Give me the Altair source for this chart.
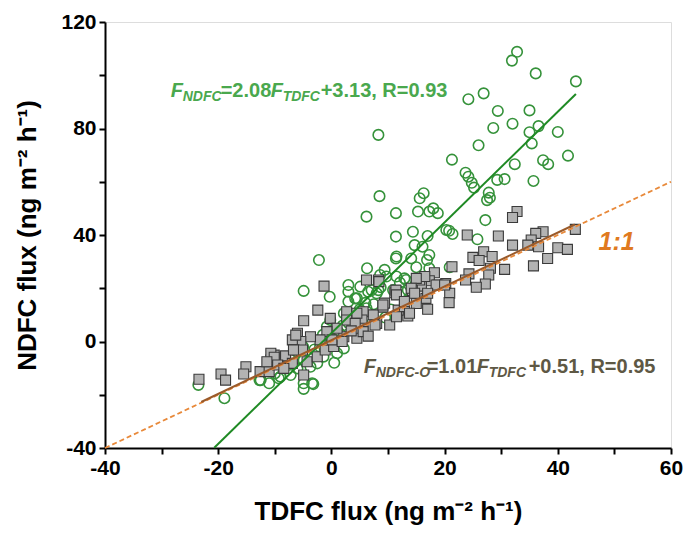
import altair as alt
import pandas as pd

# ---------------- data ----------------
ndfc_x = [32.8, 31.9, 36.1, 43.2, 26.9, 24.2, 29.4, 35.0, 32.0, 28.6, 36.6, 35.0, 40.0, 35.4, 26.0,
          41.8, 21.3, 32.4, 37.4, 38.3, 23.7, 24.2, 24.8, 29.3, 30.6, 35.7, 25.2, 27.8, 28.0, 27.5,
          16.3, 15.6, 8.3, 8.5, 6.2, 11.4, 15.3, 17.3, 18.8, 18.0, 14.4, 11.4, 17.0, 20.8, 20.3,
          21.4, 14.7, 16.1, 17.3, 11.5, -2.2, 27.2, 25.8, 11.4, 14.1, 16.9, 15.0, 6.3, 9.4, 8.6,
          20.9, 17.3, 9.7, 11.5, 12.9, 5.1, 6.5, 8.7, 10.9, 12.1, 13.2, 12.4, 13.5, 4.5, 8.3,
          -4.9, -0.3, 3.0, 3.0, 4.2, 3.0, 7.1, 8.0, 6.2, 2.2, -0.2, -0.8, 1.0, 2.2, 1.0,
          -1.4, -2.5, -3.7, -4.9, -6.0, -7.2, -4.9, -3.4, -9.3, -11.0, -12.5, -23.5, -18.9, -9.0, -3.2,
          -4.9, -6.0, -8.0, -2.0, 0.0, 1.5, 3.0, 4.0, 5.0, -1.0, 2.0, -3.0, 6.0, 7.5, -10.0,
          -7.0, -5.0, 0.5, 9.5, 10.5, 5.5, -12.7, -1.5]
ndfc_y = [108.8, 105.5, 100.7, 97.7, 93.2, 91.0, 86.6, 86.8, 81.8, 80.2, 80.9, 78.6, 78.7, 74.4, 73.7,
          69.8, 68.3, 66.6, 68.1, 66.6, 63.4, 61.9, 59.6, 60.7, 61.0, 60.3, 57.8, 55.9, 54.0, 53.1,
          55.7, 53.8, 77.6, 54.6, 46.9, 48.2, 48.8, 48.8, 48.2, 50.0, 41.2, 39.4, 39.6, 41.6, 41.9,
          40.4, 36.2, 35.6, 32.5, 31.9, 30.6, 45.6, 38.4, 31.2, 31.2, 30.6, 27.9, 27.5, 26.9, 25.0,
          27.9, 27.5, 24.4, 24.4, 23.7, 20.6, 18.7, 20.4, 19.3, 22.1, 23.1, 18.7, 19.3, 16.2, 19.3,
          19.0, 16.8, 21.2, 18.7, 16.2, 15.0, 19.3, 18.1, 12.5, 10.6, 8.1, 5.6, 4.3, -2.6, -4.4,
          -5.7, -8.2, -9.5, -7.0, -10.1, -12.6, -15.7, -15.7, -13.8, -15.7, -14.5, -16.3, -21.3, -13.2, -16.0,
          -17.8, -4.0, -8.0, -2.0, 0.5, 3.0, 7.0, 9.0, 12.0, 1.0, 6.0, -3.0, 14.5, 14.0, -12.0,
          -6.0, -2.0, -8.0, 9.0, 12.0, 7.0, -14.5, 2.5]

ndfco_x = [32.8, 32.0, 43.1, 37.4, 36.1, 35.3, 36.6, 34.7, 40.0, 41.7, 38.2, 35.7, 32.0, 29.5, 24.0,
           26.9, 25.0, 28.4, 26.1, 28.1, 30.6, 27.8, 24.3, 23.7, 27.2, 25.6, 21.3, 20.9, 20.8, 20.2,
           18.2, 17.3, 18.8, 15.9, 15.6, 14.3, 16.7, 17.0, 15.0, 13.5, 11.2, 10.3, 9.1, 11.8, 12.9,
           8.3, 8.0, 16.5, 15.0, 14.1, 14.7, 11.4, 11.5, 8.4, 6.2, 18.5, 20.0, 17.0, 13.8, 12.9,
           9.4, 7.4, 5.6, 5.4, 7.7, 11.5, 5.6, 9.1, 4.5, 5.6, 2.2,
           -2.4, -4.9, -0.2, 2.7, 4.5, 2.7, 4.2, 1.0, -0.8, -2.0, -3.7, -6.0, -5.4, -6.9, -6.6,
           -5.1, -8.1, -10.1, -10.7, -4.3, -2.5, -1.1, 0.4, -4.9, 0.1, 1.9, -23.4, -19.5, -18.7, -15.1,
           -15.5, -12.6, -11.0, -10.7, -10.1, -8.1, -6.7, -6.9, -6.3, -9.5, -8.4, -11.4, -1.3, 3.5, 6.5]
ndfco_y = [48.8, 46.6, 42.1, 41.2, 40.6, 38.1, 35.6, 36.2, 35.2, 34.6, 31.2, 28.4, 36.2, 39.6, 40.0,
           33.7, 31.6, 31.9, 30.4, 27.5, 27.1, 25.0, 25.4, 23.1, 21.6, 20.4, 28.1, 18.1, 14.6, 21.8,
           25.8, 22.8, 21.2, 20.8, 23.1, 19.1, 16.2, 12.1, 14.3, 9.6, 18.3, 6.2, 12.9, 11.8, 13.1,
           23.1, 6.8, 24.4, 23.7, 20.0, 18.1, 19.3, 17.5, 22.5, 23.1, 21.2, 21.2, 18.1, 10.6, 15.0,
           14.4, 10.0, 11.2, 8.1, 6.2, 9.3, 5.0, 13.7, 1.2, 3.7, 1.8,
           11.8, 7.8, 8.7, 11.2, 10.6, 8.1, 6.8, 5.0, 3.7, 0.6, 1.8, 3.1, 0.0, 0.6, -3.2,
           -3.2, -5.7, -5.1, -7.0, -7.6, -5.7, -3.2, -1.9, -12.6, 0.6, 0.0, -14.2, -12.2, -14.5, -9.5,
           -12.2, -11.3, -11.3, -4.4, -5.9, -5.4, -3.2, -8.2, 2.4, -8.8, -10.1, -7.6, 20.8, 4.0, 2.0]

# regression lines (coefficients printed on the chart) and 1:1 line
green_fit_x = [-20.7, 43.2]
green_slope, green_icpt = 2.08, 3.13
brown_fit_x = [-23.0, 43.0]
brown_slope, brown_icpt = 1.01, 0.51
one_to_one = [-40, 60]

x_ticks = list(range(-40, 61, 10))
y_ticks = list(range(-40, 121, 20))

# ---------------- styling ----------------
FONT = "Liberation Sans"
GREEN_PT = "#35923a"
GREEN_LINE = "#1f8a24"
GREEN_TXT = "#4aa84e"
BROWN_LINE = "#9a5a2a"
ORANGE = "#e8893a"
BROWN_TXT = "#5e5844"
ORANGE_TXT = "#e07a1f"

xs = alt.Scale(domain=[-40, 60], nice=False, zero=False)
ys = alt.Scale(domain=[-40, 120], nice=False, zero=False)

x_axis = alt.Axis(values=x_ticks, labelExpr="datum.value % 20 === 0 ? '' + datum.value : ''",
                  tickSize=6, tickWidth=2, tickColor="black", domainWidth=2, domainColor="black",
                  labelFont=FONT, labelFontSize=21, labelFontWeight="bold", labelColor="black",
                  labelPadding=3, labelOverlap=False, labelFlush=False, grid=False,
                  title="TDFC flux (ng m\u207b\u00b2 h\u207b\u00b9)", titleFont=FONT, titleFontSize=26,
                  titleFontWeight="bold", titleColor="black", titlePadding=20)
y_axis = alt.Axis(values=y_ticks, labelExpr="datum.value % 40 === 0 ? '' + datum.value : ''",
                  tickSize=6, tickWidth=2, tickColor="black", domainWidth=2, domainColor="black",
                  labelFont=FONT, labelFontSize=21, labelFontWeight="bold", labelColor="black",
                  labelPadding=3, labelOverlap=False, labelFlush=False, grid=False,
                  title="NDFC flux (ng m\u207b\u00b2 h\u207b\u00b9)", titleFont=FONT, titleFontSize=26,
                  titleFontWeight="bold", titleColor="black", titlePadding=20)

circ_df = pd.DataFrame({"x": ndfc_x, "y": ndfc_y})
sq_df = pd.DataFrame({"x": ndfco_x, "y": ndfco_y})

circles = alt.Chart(circ_df).mark_point(shape="circle", filled=False, size=110, strokeWidth=1.6,
                                        color=GREEN_PT, opacity=1).encode(
    x=alt.X("x:Q", scale=xs, axis=x_axis), y=alt.Y("y:Q", scale=ys, axis=y_axis))

squares = alt.Chart(sq_df).mark_point(shape="square", filled=True, size=100, fill="#b3b3b3",
                                      stroke="#3a3a3a", strokeWidth=1.1, opacity=1,
                                      fillOpacity=1).encode(x=alt.X("x:Q", scale=xs), y=alt.Y("y:Q", scale=ys))

one_df = pd.DataFrame({"x": one_to_one, "y": one_to_one})
one_line = alt.Chart(one_df).mark_line(color=ORANGE, strokeDash=[5, 3], strokeWidth=1.8).encode(
    x=alt.X("x:Q", scale=xs), y=alt.Y("y:Q", scale=ys))

g_df = pd.DataFrame({"x": green_fit_x, "y": [green_slope * v + green_icpt for v in green_fit_x]})
g_line = alt.Chart(g_df).mark_line(color=GREEN_LINE, strokeWidth=2).encode(
    x=alt.X("x:Q", scale=xs), y=alt.Y("y:Q", scale=ys))

b_df = pd.DataFrame({"x": brown_fit_x, "y": [brown_slope * v + brown_icpt for v in brown_fit_x]})
b_line = alt.Chart(b_df).mark_line(color=BROWN_LINE, strokeWidth=2).encode(
    x=alt.X("x:Q", scale=xs), y=alt.Y("y:Q", scale=ys))


def label_pieces(anchor_x, anchor_y, pieces, color):
    layers = []
    for txt, dx, sub, ital in pieces:
        df = pd.DataFrame({"x": [anchor_x], "y": [anchor_y], "t": [txt]})
        layers.append(alt.Chart(df).mark_text(
            align="left", baseline="alphabetic", font=FONT, fontWeight="bold",
            fontStyle="italic" if ital else "normal", fontSize=14 if sub else 20,
            dx=dx, dy=4 if sub else 0, color=color).encode(
            x=alt.X("x:Q", scale=xs), y=alt.Y("y:Q", scale=ys), text="t:N"))
    return layers


green_label = label_pieces(-28.4, 91.7, [("F", 0, False, True), ("NDFC", 12, True, True),
                                         ("=2.08", 50, False, False), ("F", 100, False, True),
                                         ("TDFC", 112, True, True), ("+3.13, R=0.93", 150, False, False)],
                           GREEN_TXT)
brown_label = label_pieces(5.7, -11.7, [("F", 0, False, True), ("NDFC-O", 12, True, True),
                                        ("=1.01", 63, False, False), ("F", 113, False, True),
                                        ("TDFC", 125, True, True), ("+0.51, R=0.95", 165, False, False)],
                           BROWN_TXT)

one_lab = alt.Chart(pd.DataFrame({"x": [47.2], "y": [34.4], "t": ["1:1"]})).mark_text(
    align="left", baseline="alphabetic", font=FONT, fontWeight="bold", fontStyle="italic",
    fontSize=25, color=ORANGE_TXT).encode(x=alt.X("x:Q", scale=xs), y=alt.Y("y:Q", scale=ys), text="t:N")

chart = alt.layer(circles, squares, one_line, g_line, b_line, one_lab, *green_label, *brown_label).properties(
    width=566, height=426,
    padding={"left": 97, "top": 14, "right": 13, "bottom": 78},
    autosize=alt.AutoSizeParams(type="none"),
).configure_view(stroke="black", strokeWidth=2).configure(background="white")

chart.save("out.html", embed_options={"renderer": "svg", "actions": False})
